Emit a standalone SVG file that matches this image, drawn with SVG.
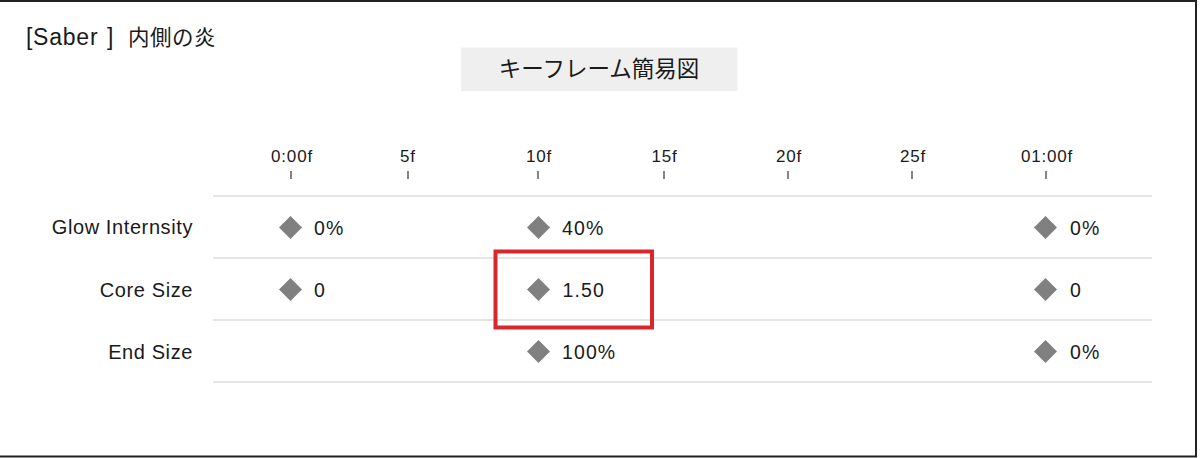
<svg xmlns="http://www.w3.org/2000/svg" width="1200" height="458" viewBox="0 0 1200 458">
<style>
  text { font-family: "Liberation Sans", "Noto Sans CJK JP", sans-serif; fill: #1a1a1a; }
  .tick-label { font-size: 17px; letter-spacing: 0.8px; text-anchor: middle; }
  .row-label { font-size: 20px; letter-spacing: 0.6px; text-anchor: end; }
  .val { font-size: 19.5px; letter-spacing: 1.1px; }
  .grid { stroke: #dcdcdc; stroke-width: 1.5; }
  .tick { stroke: #333; stroke-width: 1.2; }
  .key { fill: #808080; }
</style>
<defs>
  <polygon id="diamond" points="0,-11.5 11.5,0 0,11.5 -11.5,0"/>
</defs>
<rect x="0" y="0" width="1200" height="458" fill="#ffffff"/>
<path d="M0,1 H1196 V456.5 H0" fill="none" stroke="#222" stroke-width="2"/>

<g id="title">
  <text x="26" y="45" font-size="23">[</text>
  <text x="33" y="45" font-size="23" letter-spacing="0.8">Saber</text>
  <text x="107" y="45" font-size="23">]</text>
  <text x="128" y="45" font-size="21.5" letter-spacing="0.5">内側の炎</text>
</g>

<g id="header">
  <rect x="461" y="47.5" width="276.5" height="43.5" fill="#efefef"/>
  <text x="599" y="77" font-size="22.5" text-anchor="middle">キーフレーム簡易図</text>
</g>

<g id="timeline">
  <text class="tick-label" x="292" y="162">0:00f</text>
  <text class="tick-label" x="408" y="162">5f</text>
  <text class="tick-label" x="539" y="162">10f</text>
  <text class="tick-label" x="664.5" y="162">15f</text>
  <text class="tick-label" x="789" y="162">20f</text>
  <text class="tick-label" x="913" y="162">25f</text>
  <text class="tick-label" x="1047" y="162">01:00f</text>
  <line class="tick" x1="291" y1="171" x2="291" y2="179"/>
  <line class="tick" x1="408" y1="171" x2="408" y2="179"/>
  <line class="tick" x1="538" y1="171" x2="538" y2="179"/>
  <line class="tick" x1="664" y1="171" x2="664" y2="179"/>
  <line class="tick" x1="788" y1="171" x2="788" y2="179"/>
  <line class="tick" x1="912" y1="171" x2="912" y2="179"/>
  <line class="tick" x1="1046" y1="171" x2="1046" y2="179"/>
</g>

<g id="grid-lines">
  <line class="grid" x1="213" y1="196" x2="1152" y2="196"/>
  <line class="grid" x1="213" y1="258" x2="1152" y2="258"/>
  <line class="grid" x1="213" y1="320" x2="1152" y2="320"/>
  <line class="grid" x1="213" y1="382" x2="1152" y2="382"/>
</g>

<g id="row-glow">
  <text class="row-label" x="193" y="234">Glow Internsity</text>
  <use href="#diamond" class="key" x="290.5" y="227.5"/>
  <text class="val" x="314" y="235">0%</text>
  <use href="#diamond" class="key" x="538.5" y="227.5"/>
  <text class="val" x="562" y="235">40%</text>
  <use href="#diamond" class="key" x="1045.5" y="227.5"/>
  <text class="val" x="1070" y="235">0%</text>
</g>

<g id="row-core">
  <text class="row-label" x="193" y="297">Core Size</text>
  <use href="#diamond" class="key" x="290.5" y="289.5"/>
  <text class="val" x="314" y="297">0</text>
  <use href="#diamond" class="key" x="538.5" y="289.5"/>
  <text class="val" x="562.5" y="297">1.50</text>
  <use href="#diamond" class="key" x="1045.5" y="289.5"/>
  <text class="val" x="1070" y="297">0</text>
</g>

<g id="row-end">
  <text class="row-label" x="193" y="359">End Size</text>
  <use href="#diamond" class="key" x="538.5" y="351.5"/>
  <text class="val" x="562" y="359">100%</text>
  <use href="#diamond" class="key" x="1045.5" y="351.5"/>
  <text class="val" x="1070" y="359">0%</text>
</g>

<g id="highlight">
  <rect x="495.5" y="251.5" width="156.5" height="76" fill="none" stroke="#d7262c" stroke-width="4"/>
</g>
</svg>
